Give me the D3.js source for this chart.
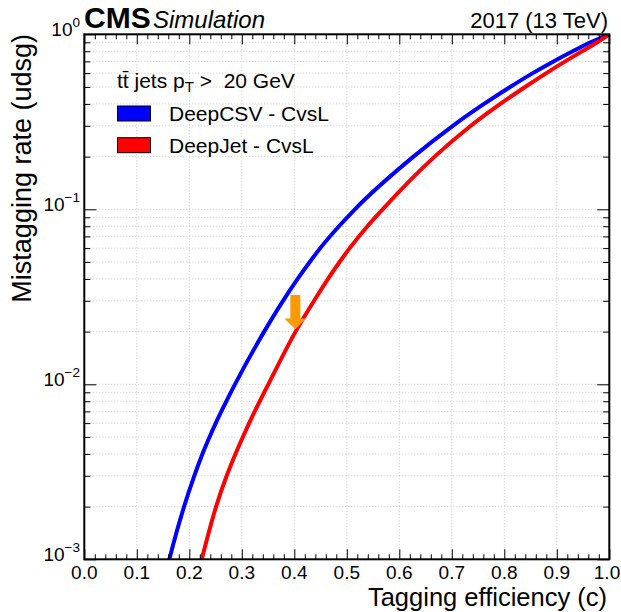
<!DOCTYPE html>
<html><head><meta charset="utf-8">
<script src="https://cdn.jsdelivr.net/npm/d3@7"></script>
<style>
html,body{margin:0;padding:0;background:#fff;}
text{font-family:"Liberation Sans",Arial,Helvetica,sans-serif;white-space:pre;}
</style></head>
<body>
<svg id="chart" width="621" height="612"></svg>
<script>
// ---- data ----
const deepcsvEff    = [0.154, 0.162, 0.190, 0.2095, 0.225, 0.2386, 0.2504, 0.261, 0.2705, 0.287, 0.3426, 0.3785, 0.4063, 0.4294, 0.4494, 0.4851, 0.5154, 0.627, 0.702, 0.7614, 0.8111, 0.8543, 0.8937, 0.9304, 0.9644, 1.0];
const deepcsvMistag = [0.0008, 0.001, 0.002, 0.003, 0.004, 0.005, 0.006, 0.007, 0.008, 0.010, 0.020, 0.030, 0.040, 0.050, 0.060, 0.080, 0.100, 0.200, 0.300, 0.400, 0.500, 0.600, 0.700, 0.800, 0.900, 1.0];
const deepjetEff    = [0.2152, 0.2236, 0.251, 0.2712, 0.2879, 0.302, 0.314, 0.3246, 0.3341, 0.3505, 0.4024, 0.4376, 0.4642, 0.4862, 0.5055, 0.5393, 0.5683, 0.6673, 0.7363, 0.7923, 0.8396, 0.8801, 0.9159, 0.9481, 0.9772, 1.0];
const deepjetMistag = [0.0008, 0.001, 0.002, 0.003, 0.004, 0.005, 0.006, 0.007, 0.008, 0.010, 0.020, 0.030, 0.040, 0.050, 0.060, 0.080, 0.100, 0.200, 0.300, 0.400, 0.500, 0.600, 0.700, 0.800, 0.900, 1.0];
const seriesNames   = ["DeepCSV - CvsL", "DeepJet - CvsL"];
const seriesColors  = ["#0000ff", "#ff0000"];
const xTicks        = [0.0, 0.1, 0.2, 0.3, 0.4, 0.5, 0.6, 0.7, 0.8, 0.9, 1.0];
const xTickLabels   = ["0.0","0.1","0.2","0.3","0.4","0.5","0.6","0.7","0.8","0.9","1.0"];
const yDecades      = [1e-3, 1e-2, 1e-1, 1];
const yDecadeExps   = ["\u22123", "\u22122", "\u22121", "0"];
const arrowX = 0.402, arrowTop = 0.0324, arrowHeadBase = 0.0238, arrowTip = 0.0206;

// ---- layout ----
const W = 621;
const L = 84.3, R = 609.3, T = 34.3, B = 559.3;
const svg = d3.select("#chart");
const x = d3.scaleLinear().domain([0, 1]).range([L, R]);
const y = d3.scaleLog().domain([1e-3, 1]).range([B, T]);

const xMinor = d3.range(0, 1.0001, 0.02).map(v => +v.toFixed(2));
const yMinor = [];
for (let e = -3; e < 0; e++) for (let k = 1; k <= 9; k++) yMinor.push(+(k * Math.pow(10, e)).toPrecision(3));
yMinor.push(1);

// grid
const grid = svg.append("g").attr("stroke", "#c8c8c8").attr("stroke-width", 1).attr("stroke-dasharray", "1,2");
grid.selectAll("line.gx").data(xTicks.slice(1, -1)).enter().append("line")
  .attr("x1", d => x(d)).attr("x2", d => x(d)).attr("y1", T).attr("y2", B);
grid.selectAll("line.gy").data(yMinor.filter(v => v > 1e-3 && v < 1)).enter().append("line")
  .attr("x1", L).attr("x2", R).attr("y1", d => y(d)).attr("y2", d => y(d));

// curves
svg.append("clipPath").attr("id", "clip").append("rect")
  .attr("x", L).attr("y", T).attr("width", R - L).attr("height", B - T);
const line = d3.line().x(d => x(d[0])).y(d => y(d[1])).curve(d3.curveMonotoneX);
const series = [d3.zip(deepcsvEff, deepcsvMistag), d3.zip(deepjetEff, deepjetMistag)];
svg.append("g").attr("clip-path", "url(#clip)").selectAll("path").data(series).enter().append("path")
  .attr("d", line).attr("fill", "none").attr("stroke", (d, i) => seriesColors[i]).attr("stroke-width", 4);

// arrow
const aw = 5, hw = 11;
const ax = x(arrowX);
svg.append("path").attr("fill", "#ff9900")
  .attr("d", `M${ax - aw},${y(arrowTop)} L${ax + aw},${y(arrowTop)} L${ax + aw},${y(arrowHeadBase)} L${ax + hw},${y(arrowHeadBase)} L${ax},${y(arrowTip)} L${ax - hw},${y(arrowHeadBase)} L${ax - aw},${y(arrowHeadBase)} Z`);

// axes ticks (inward)
const isMajorX = v => Math.abs(v * 10 - Math.round(v * 10)) < 1e-6;
const isMajorY = v => Math.abs(Math.log10(v) - Math.round(Math.log10(v))) < 1e-6;
const ax1 = svg.append("g").attr("transform", `translate(0,${B})`)
  .call(d3.axisBottom(x).tickValues(xMinor).tickSizeOuter(0).tickFormat(""));
ax1.selectAll(".tick line").attr("y2", d => isMajorX(d) ? -10 : -5);
const ax2 = svg.append("g").attr("transform", `translate(0,${T})`)
  .call(d3.axisTop(x).tickValues(xMinor).tickSizeOuter(0).tickFormat(""));
ax2.selectAll(".tick line").attr("y2", d => isMajorX(d) ? 10 : 5);
const ay1 = svg.append("g").attr("transform", `translate(${L},0)`)
  .call(d3.axisLeft(y).tickValues(yMinor).tickSizeOuter(0).tickFormat(""));
ay1.selectAll(".tick line").attr("x2", d => isMajorY(d) ? 12 : 6);
const ay2 = svg.append("g").attr("transform", `translate(${R},0)`)
  .call(d3.axisRight(y).tickValues(yMinor).tickSizeOuter(0).tickFormat(""));
ay2.selectAll(".tick line").attr("x2", d => isMajorY(d) ? -12 : -6);
svg.selectAll(".domain").remove();
svg.selectAll(".tick line").attr("stroke", "#000").attr("stroke-width", 1);

// frame
svg.append("rect").attr("x", L).attr("y", T).attr("width", R - L).attr("height", B - T)
  .attr("fill", "none").attr("stroke", "#000").attr("stroke-width", 2);

// x tick labels
svg.append("g").selectAll("text").data(xTicks).enter().append("text")
  .attr("x", d => Math.min(x(d), W - 14)).attr("y", 579).attr("text-anchor", "middle")
  .attr("font-size", 19).text((d, i) => xTickLabels[i]);

// y tick labels
const yl = svg.append("g").selectAll("text").data(yDecades).enter().append("text")
  .attr("x", 80).attr("y", d => y(d) + 2).attr("text-anchor", "end").attr("font-size", 19);
yl.append("tspan").text("10");
yl.append("tspan").attr("dy", -9).attr("font-size", 13.5).text((d, i) => yDecadeExps[i]);

// titles
svg.append("text").attr("x", 607).attr("y", 606).attr("text-anchor", "end")
  .attr("font-size", 25.5).text("Tagging efficiency (c)");
svg.append("text").attr("transform", "translate(31,34) rotate(-90)").attr("text-anchor", "end")
  .attr("font-size", 27).text("Mistagging rate (udsg)");

svg.append("text").attr("x", 84).attr("y", 28).attr("font-size", 30).attr("font-weight", "bold").text("CMS");
svg.append("text").attr("x", 153).attr("y", 28).attr("font-size", 24).attr("font-style", "italic").text("Simulation");
svg.append("text").attr("x", 608).attr("y", 28).attr("text-anchor", "end").attr("font-size", 22).text("2017 (13 TeV)");

// legend
const hdr = svg.append("text").attr("x", 117).attr("y", 88).attr("font-size", 21);
hdr.append("tspan").text("tt\u0304 jets p");
hdr.append("tspan").attr("font-size", 15).attr("dy", 4).text("T");
hdr.append("tspan").attr("dy", -4).text(" >  20 GeV");
const lg = svg.append("g").selectAll("g").data(seriesNames).enter().append("g")
  .attr("transform", (d, i) => `translate(0,${i * 31.7})`);
lg.append("rect").attr("x", 117.5).attr("y", 106).attr("width", 33).attr("height", 15)
  .attr("fill", (d, i) => seriesColors[i]).attr("stroke", "#000").attr("stroke-width", 1);
lg.append("text").attr("x", 169).attr("y", 121).attr("font-size", 21).text(d => d);
</script>
</body></html>
